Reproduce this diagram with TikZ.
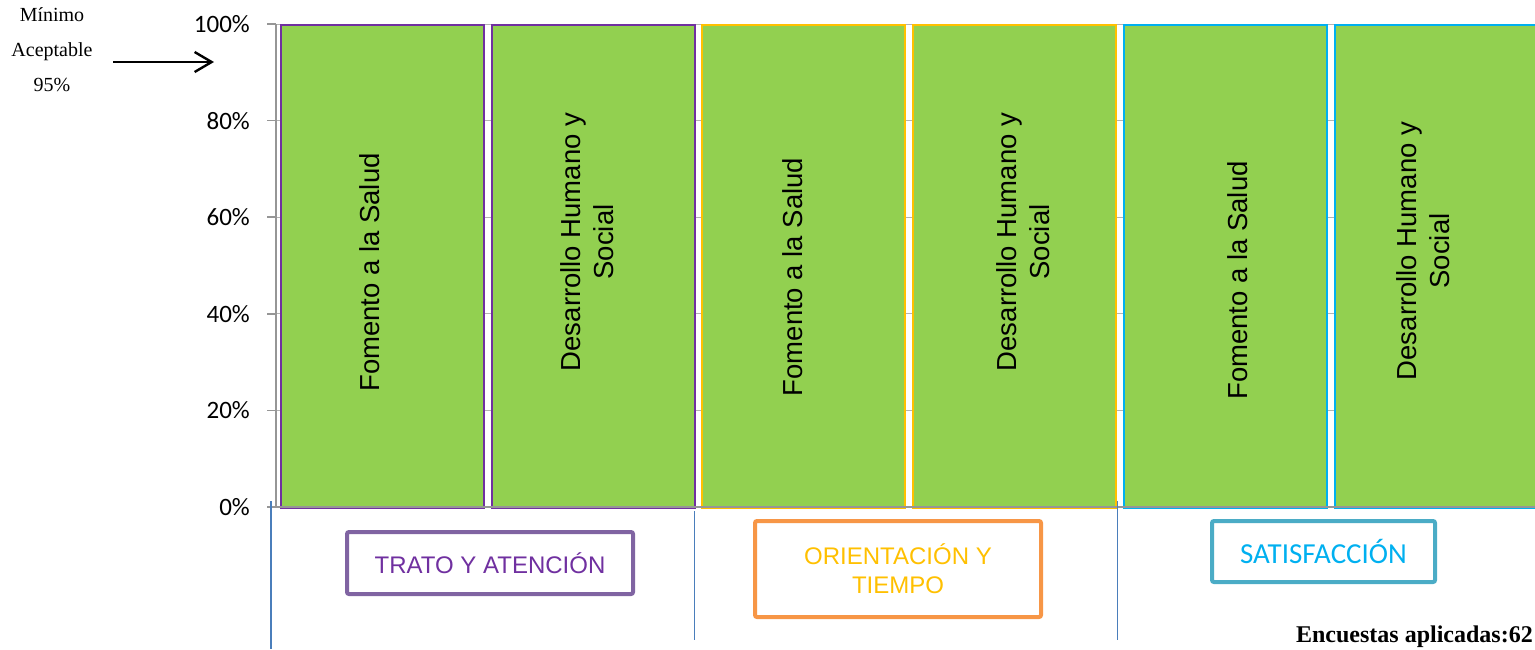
\documentclass[tikz,border=0pt]{standalone}
\usepackage{fontspec}
\setmainfont{Liberation Serif}
\newfontfamily\arialf{Liberation Sans}
\newfontfamily\calibf{Carlito}
\usetikzlibrary{arrows.meta}
\definecolor{barg}{HTML}{92D050}
\definecolor{purp}{HTML}{7030A0}
\definecolor{yell}{HTML}{FFC000}
\definecolor{cyan2}{HTML}{00B0F0}
\definecolor{boxpurp}{HTML}{8064A2}
\definecolor{boxorange}{HTML}{F79646}
\definecolor{boxteal}{HTML}{4BACC6}
\definecolor{sepblue}{HTML}{4A7EBB}
\definecolor{gridgray}{HTML}{B3B3B3}
\definecolor{axisgray}{HTML}{969696}
\tikzset{
  bar/.style={fill=barg, line width=1.5pt, minimum width=203pt, minimum height=483pt, inner sep=0pt, anchor=north west},
  bartext/.style={rotate=90, align=center, font=\arialf\fontsize{27.5}{33.5}\selectfont, inner sep=0pt},
  ylab/.style={anchor=east, font=\calibf\fontsize{25}{30}\selectfont, inner sep=0pt},
  catbox/.style={draw, line width=4pt, rounded corners=2pt, fill=white, align=center, inner sep=0pt},
  gridl/.style={draw=gridgray, line width=1pt},
  axisl/.style={draw=axisgray, line width=1.5pt},
  sepl/.style={draw=sepblue, line width=1.5pt},
}
\begin{document}
\begin{tikzpicture}[x=1pt,y=-1pt]
\useasboundingbox (0,0) rectangle (1535,649);
\clip (0,0) rectangle (1535,649);
% gridlines
\foreach \yy in {24,120.6,217.2,313.8,410.4} {
  \draw[gridl] (267,\yy) -- (1535,\yy);
}
% bars
\node[bar, draw=purp] (b1) at (280,24) {};
\node[bar, draw=purp] (b2) at (491,24) {};
\node[bar, draw=yell] (b3) at (701,24) {};
\node[bar, draw=yell] (b4) at (912,24) {};
\node[bar, draw=cyan2] (b5) at (1123,24) {};
\node[bar, draw=cyan2] (b6) at (1334,24) {};
% axes
\draw[axisl] (276,24) -- (276,507);
\draw[axisl] (267,507) -- (1535,507);
\foreach \yy in {24,120.6,217.2,313.8,410.4,507} {
  \draw[axisl] (267,\yy) -- (276,\yy);
}
% y labels
\node[ylab] (y100) at (250,24) {100\%};
\node[ylab] (y80) at (250,120.6) {80\%};
\node[ylab] (y60) at (250,217.2) {60\%};
\node[ylab] (y40) at (250,313.8) {40\%};
\node[ylab] (y20) at (250,410.4) {20\%};
\node[ylab] (y0) at (250,507) {0\%};
% bar texts
\node[bartext] (t1) at (370,272.5) {Fomento a la Salud};
\node[bartext] (t2) at (587,242) {Desarrollo Humano y\\Social};
\node[bartext] (t3) at (793,277) {Fomento a la Salud};
\node[bartext] (t4) at (1023,242) {Desarrollo Humano y\\Social};
\node[bartext] (t5) at (1238,280.5) {Fomento a la Salud};
\node[bartext] (t6) at (1423,251) {Desarrollo Humano y\\Social};
% category separators
\draw[sepl] (271,501) -- (271,649);
\draw[sepl] (694.5,511) -- (694.5,640);
\draw[sepl] (1117.5,501) -- (1117.5,640);
% category boxes
\node[catbox, draw=boxpurp, text=purp, minimum width=286pt, minimum height=62pt,
  font=\arialf\fontsize{24}{29}\selectfont] (c1) at (490,563) {TRATO Y ATENCIÓN};
\node[catbox, draw=boxorange, text=yell, minimum width=286pt, minimum height=96pt,
  font=\arialf\fontsize{24}{29}\selectfont] (c2) at (898,569) {ORIENTACIÓN Y\\TIEMPO};
\node[catbox, draw=boxteal, text=cyan2, minimum width=223pt, minimum height=61pt,
  font=\calibf\fontsize{29}{34}\selectfont] (c3) at (1323.5,551.5) {SATISFACCIÓN};
% minimum annotation
\node[align=center, font=\fontsize{20}{35}\selectfont, inner sep=0pt] (minimo) at (52,50) {Mínimo\\Aceptable\\95\%};
\coordinate (a1) at (113,62);
\coordinate (a2) at (214,62);
\draw[line width=2.4pt, -{Straight Barb[length=17pt,width=20pt,line width=2.4pt]}] (a1) -- (a2);
% footer
\node[anchor=south east, font=\bfseries\fontsize{24}{28}\selectfont, inner sep=1pt] (enc) at (1534,649) {Encuestas aplicadas:62};
\end{tikzpicture}
\end{document}
